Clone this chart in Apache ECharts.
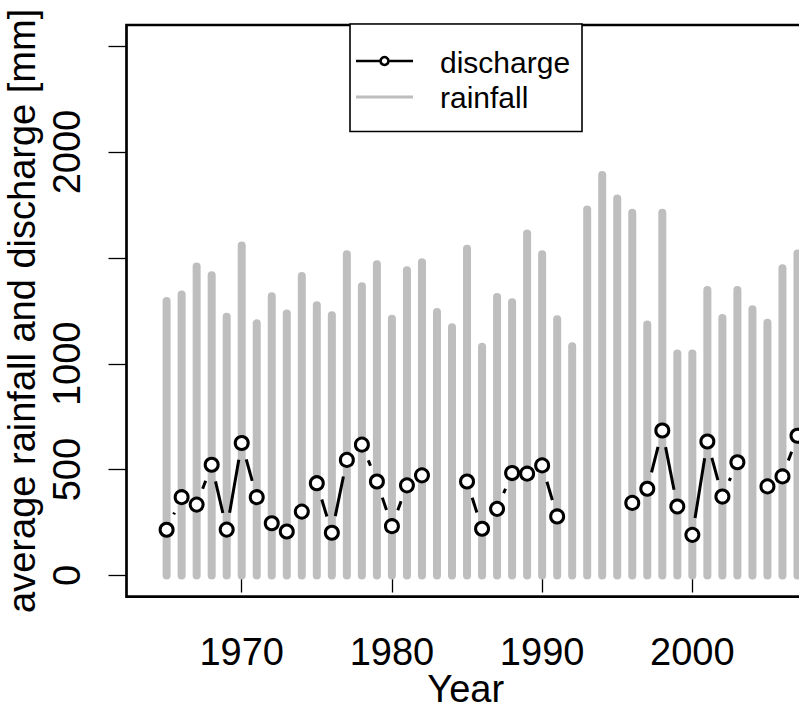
<!DOCTYPE html>
<html>
<head>
<meta charset="utf-8">
<script src="https://cdn.jsdelivr.net/npm/echarts@6/dist/echarts.min.js"></script>
<style>
html,body{margin:0;padding:0;background:#fff;}
#chart{width:799px;height:706px;}
</style>
</head>
<body>
<div id="chart"></div>
<script>
// ---- data ----
const years = [1965,1966,1967,1968,1969,1970,1971,1972,1973,1974,1975,1976,1977,1978,1979,1980,1981,1982,1983,1984,1985,1986,1987,1988,1989,1990,1991,1992,1993,1994,1995,1996,1997,1998,1999,2000,2001,2002,2003,2004,2005,2006,2007];
const rainfall = [1296,1327,1459,1418,1222,1559,1191,1319,1238,1414,1277,1229,1517,1366,1470,1213,1442,1480,1244,1173,1543,1080,1316,1291,1615,1517,1210,1083,1729,1891,1781,1713,1185,1713,1049,1049,1348,1216,1348,1257,1194,1451,1521];
const discharge = [216,370,335,523,217,626,370,247,208,302,436,202,546,618,444,233,426,473,null,null,444,221,315,484,481,520,279,null,null,null,null,343,410,685,326,192,633,373,535,null,421,468,660];
const xTicks = [1970,1980,1990,2000];
const yTicks = [0,500,1000,1500,2000,2500];
const yTickLabels = [0,500,1000,2000];
const legendNames = ['discharge','rainfall'];

const FONT = 'Liberation Sans, Arial, Helvetica, sans-serif';
const GREY = '#BEBEBE';

// build series data
const rainData = years.map((y,i)=>[y, rainfall[i]]);
const pointData = [];
years.forEach((y,i)=>{ if (discharge[i] != null) pointData.push([y, discharge[i]]); });
const segData = [];
for (let i=0;i<years.length-1;i++){
  if (discharge[i] != null && discharge[i+1] != null){
    segData.push([years[i], discharge[i], years[i+1], discharge[i+1]]);
  }
}
const GAP = 17;

const chart = echarts.init(document.getElementById('chart'), null, {renderer:'svg'});
chart.setOption({
  animation:false,
  backgroundColor:'#fff',
  textStyle:{fontFamily:FONT},
  grid:{left:126.5, top:25, width:678.5, height:571.7, show:true, borderColor:'#000', borderWidth:2.7,
        backgroundColor:'transparent', containLabel:false, outerBoundsMode:'none'},
  xAxis:{
    type:'value', min:1962.33, max:2007.5,
    axisLine:{show:false},
    splitLine:{show:false},
    axisTick:{show:true, customValues:xTicks, length:17, lineStyle:{color:'#000', width:1.3}},
    axisLabel:{show:true, customValues:xTicks, fontSize:38, color:'#000', margin:36, fontFamily:FONT,
               formatter:function(v){return String(v);}},
    name:'Year', nameLocation:'middle', nameGap:73, nameMoveOverlap:false,
    nameTextStyle:{fontSize:38, color:'#000', fontFamily:FONT}
  },
  yAxis:{
    type:'value', min:-100, max:2600,
    axisLine:{show:false},
    splitLine:{show:false},
    axisTick:{show:true, customValues:yTicks, length:18, lineStyle:{color:'#000', width:1.3}},
    axisLabel:{show:true, customValues:yTickLabels, rotate:90, fontSize:38, color:'#000', margin:41, fontFamily:FONT,
               formatter:function(v){return String(v);}},
    name:'average rainfall and discharge [mm]', nameLocation:'middle', nameGap:86, nameMoveOverlap:false,
    nameTextStyle:{fontSize:38, color:'#000', fontFamily:FONT}
  },
  series:[
    {
      name:legendNames[1], type:'custom', data:rainData, z:1,
      renderItem:function(params, api){
        const x = api.value(0), v = api.value(1);
        const p0 = api.coord([x,0]), p1 = api.coord([x,v]);
        return {type:'line', shape:{x1:p0[0], y1:p0[1], x2:p1[0], y2:p1[1]},
          style:{stroke:GREY, lineWidth:8, lineCap:'round', fill:null}};
      }
    },
    {
      name:legendNames[0], type:'custom', data:segData, z:2,
      renderItem:function(params, api){
        const a = api.coord([api.value(0), api.value(1)]);
        const b = api.coord([api.value(2), api.value(3)]);
        const dx = b[0]-a[0], dy = b[1]-a[1];
        const d = Math.sqrt(dx*dx+dy*dy);
        if (d <= 2*GAP) return null;
        const ux = dx/d, uy = dy/d;
        return {type:'line', shape:{x1:a[0]+ux*GAP, y1:a[1]+uy*GAP, x2:b[0]-ux*GAP, y2:b[1]-uy*GAP},
          style:{stroke:'#000', lineWidth:3, lineCap:'butt', fill:null}};
      }
    },
    {
      name:legendNames[0], type:'scatter', data:pointData, z:3,
      symbol:'circle', symbolSize:13,
      itemStyle:{color:'#fff', borderColor:'#000', borderWidth:3, opacity:1},
      emphasis:{disabled:true}
    }
  ],
  graphic:[
    {type:'group', z:100, children:[
      {type:'rect', shape:{x:350, y:24, width:232, height:107.5}, style:{fill:'#fff', stroke:'#000', lineWidth:1.6}},
      {type:'line', shape:{x1:356, y1:61, x2:413, y2:61}, style:{stroke:'#000', lineWidth:2.7}},
      {type:'circle', shape:{cx:384.5, cy:61, r:4}, style:{fill:'#fff', stroke:'#000', lineWidth:2.6}},
      {type:'line', shape:{x1:356, y1:97, x2:413, y2:97}, style:{stroke:GREY, lineWidth:3}},
      {type:'text', x:440, y:62, style:{text:legendNames[0], font:'30px '+FONT, fill:'#000', verticalAlign:'middle', align:'left'}},
      {type:'text', x:440, y:97, style:{text:legendNames[1], font:'30px '+FONT, fill:'#000', verticalAlign:'middle', align:'left'}}
    ]}
  ]
});
</script>
</body>
</html>
